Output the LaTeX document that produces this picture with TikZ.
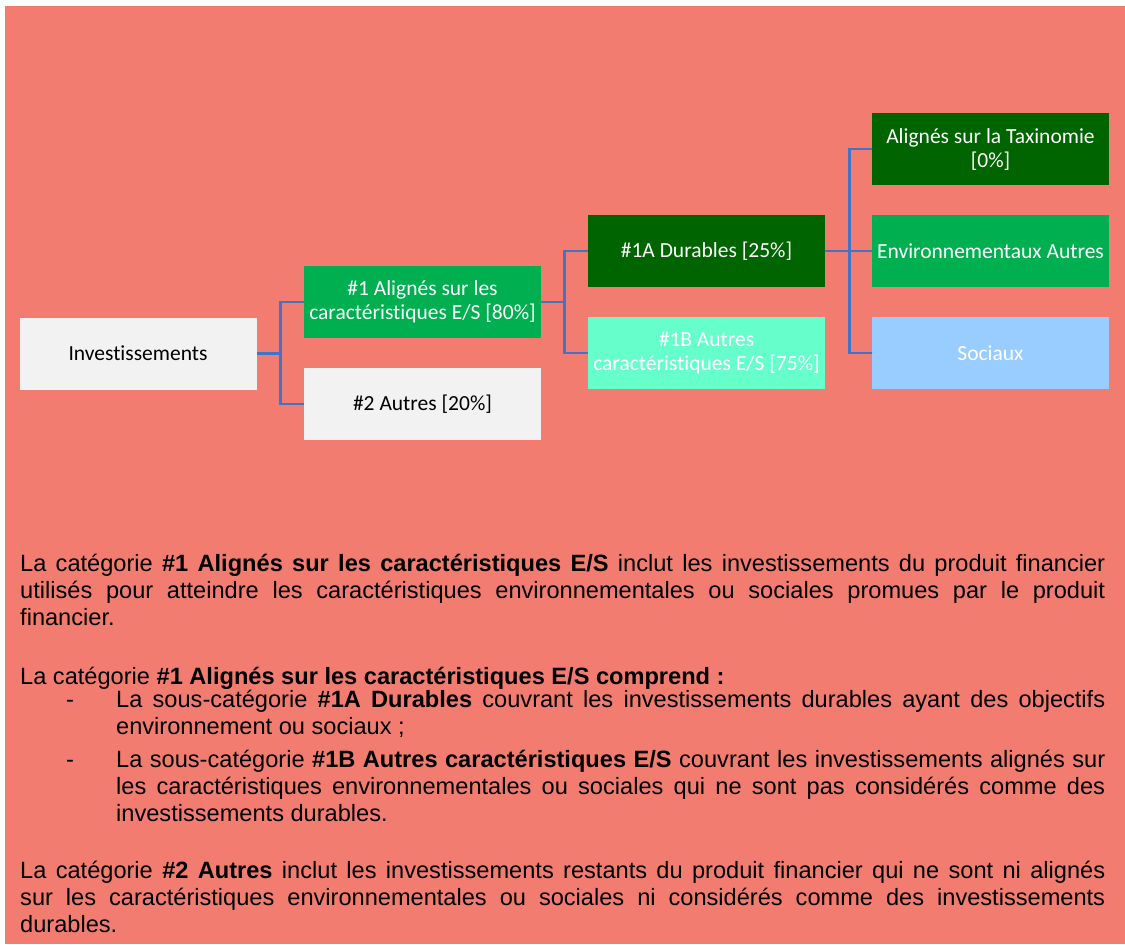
\documentclass[tikz,border=0pt]{standalone}
\usepackage{fontspec}
\setmainfont{Liberation Sans}
\newfontfamily\boxfont[Ligatures=NoCommon]{Carlito}
\definecolor{salmon}{RGB}{242,124,112}
\definecolor{grey1}{HTML}{F2F2F2}
\definecolor{green1}{HTML}{00B050}
\definecolor{dgreen}{HTML}{006400}
\definecolor{mint}{HTML}{66FFCC}
\definecolor{sky}{HTML}{99CCFF}
\definecolor{connblue}{HTML}{4472C4}
\begin{document}
\begin{tikzpicture}[x=1pt,y=-1pt,
  box/.style={rectangle, minimum width=237pt, minimum height=72pt, inner sep=0pt,
    align=center, font=\boxfont\fontsize{21.5}{24}\selectfont},
  conn/.style={draw=connblue, line width=2.8pt},
  para/.style={anchor=base west, inner sep=0pt, font=\fontsize{23.6}{27}\selectfont}]
\useasboundingbox (0,0) rectangle (1125,945);
\fill[salmon] (5,6) rectangle (1125,944);

% boxes
\node[box, fill=grey1, text=black] (inv) at (138,353.5) {Investissements};
\node[box, fill=green1, text=white] (a1) at (422.5,302) {\#1 Alignés sur les\\caractéristiques E/S [80\%]};
\node[box, fill=grey1, text=black] (a2) at (422.5,404) {\#2 Autres [20\%]};
\node[box, fill=dgreen, text=white] (d1a) at (706.5,251) {\#1A Durables [25\%]};
\node[box, fill=mint, text=white] (d1b) at (706.5,353) {\#1B Autres\\caractéristiques E/S [75\%]};
\node[box, fill=dgreen, text=white] (tax) at (990.5,149) {Alignés sur la Taxinomie\\{}[0\%]};
\node[box, fill=green1, text=white] (env) at (990.5,251) {Environnementaux Autres};
\node[box, fill=sky, text=white] (soc) at (990.5,353) {Sociaux};

% connectors
\draw[conn] (inv.east) -- ([xshift=24pt]inv.east) |- (a1.west);
\draw[conn] ([xshift=24pt]inv.east) |- (a2.west);
\draw[conn] (a1.east) -- ([xshift=23pt]a1.east) |- (d1a.west);
\draw[conn] ([xshift=23pt]a1.east) |- (d1b.west);
\draw[conn] (d1a.east) -- ([xshift=24pt]d1a.east) |- (tax.west);
\draw[conn] ([xshift=24pt]d1a.east) |- (env.west);
\draw[conn] ([xshift=24pt]d1a.east) |- (soc.west);

% text
\node[para] (p1) at (20,571) {\parbox[t]{1085pt}{\tolerance=10000 La catégorie \textbf{\#1 Alignés sur les caractéristiques E/S} inclut les investissements du produit financier\linebreak
utilisés pour atteindre les caractéristiques environnementales ou sociales promues par le produit\linebreak
financier.}};
\node[para] (p2) at (20,684) {La catégorie \textbf{\#1 Alignés sur les caractéristiques E/S comprend~:}};
\node[para] (d1) at (66,707) {-};
\node[para] (i1) at (116,707) {\parbox[t]{989pt}{\tolerance=10000 La sous-catégorie \textbf{\#1A Durables} couvrant les investissements durables ayant des objectifs\linebreak
environnement ou sociaux~;}};
\node[para] (d2) at (66,767) {-};
\node[para] (i2) at (116,767) {\parbox[t]{989pt}{\tolerance=10000 La sous-catégorie \textbf{\#1B Autres caractéristiques E/S} couvrant les investissements alignés sur\linebreak
les caractéristiques environnementales ou sociales qui ne sont pas considérés comme des\linebreak
investissements durables.}};
\node[para] (p3) at (20,878) {\parbox[t]{1085pt}{\tolerance=10000 La catégorie \textbf{\#2 Autres} inclut les investissements restants du produit financier qui ne sont ni alignés\linebreak
sur les caractéristiques environnementales ou sociales ni considérés comme des investissements\linebreak
durables.}};
\end{tikzpicture}
\end{document}
